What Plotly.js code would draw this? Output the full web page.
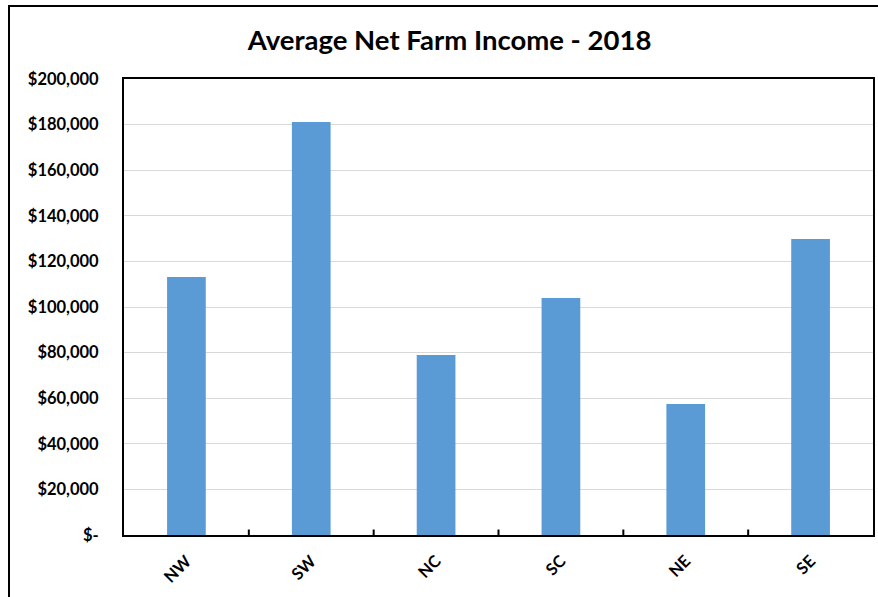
<!DOCTYPE html>
<html>
<head>
<meta charset="utf-8">
<script src="https://cdn.plot.ly/plotly-3.0.1.min.js"></script>
<style>
html,body{margin:0;padding:0;overflow:hidden;background:#fff;}
#wrap{position:relative;width:878px;height:597px;}
#chart{position:absolute;left:0;top:0;width:878px;height:597px;}
#frame{position:absolute;left:8px;top:5px;width:1000px;height:1000px;border:2px solid #000;pointer-events:none;box-sizing:border-box;}
</style>
</head>
<body>
<div id="wrap"><div id="chart"></div><div id="frame"></div></div>
<script>
const regions = ["NW", "SW", "NC", "SC", "NE", "SE"];
const income = [113200, 181100, 78900, 103900, 57500, 129800];
const yTickVals = [0, 20000, 40000, 60000, 80000, 100000, 120000, 140000, 160000, 180000, 200000];
const yTickText = ["$-", "$20,000", "$40,000", "$60,000", "$80,000", "$100,000", "$120,000", "$140,000", "$160,000", "$180,000", "$200,000"];
const titleText = "Average Net Farm Income - 2018";

const FONT = "Lato, 'Open Sans', sans-serif";
const trace = {
  type: "bar",
  x: regions,
  y: income,
  marker: {color: "#5b9bd5"},
  hoverinfo: "x+y"
};
const layout = {
  width: 878, height: 597,
  margin: {l: 124, r: 5, t: 79, b: 62, pad: 0},
  paper_bgcolor: "#fff", plot_bgcolor: "#fff",
  bargap: 0.69,
  showlegend: false,
  title: {text: "<b>" + titleText + "</b>", font: {family: FONT, size: 27.5, color: "#000"}, x: 0.512, xanchor: "center", y: 0.933, yanchor: "middle"},
  xaxis: {
    type: "category",
    tickangle: -45,
    tickfont: {family: FONT, size: 16.5, color: "#000", weight: "bold"},
    showline: true, linecolor: "#000", linewidth: 2, mirror: true,
    ticks: "", showgrid: false, zeroline: false, ticklabelstandoff: 8,
    fixedrange: true
  },
  yaxis: {
    range: [0, 200000],
    tickvals: yTickVals, ticktext: yTickText,
    tickfont: {family: FONT, size: 16.5, color: "#000", weight: "bold"},
    showline: true, linecolor: "#000", linewidth: 2, mirror: true,
    showgrid: true, gridcolor: "#d9d9d9", gridwidth: 1,
    zeroline: false, ticks: "", ticklabelstandoff: 20,
    fixedrange: true
  },
  shapes: regions.slice(1).map((r, i) => ({
    type: "line", xref: "x", yref: "paper",
    x0: i + 0.5, x1: i + 0.5, y0: 0, y1: 0.012,
    line: {color: "#000", width: 2}
  }))
};
Plotly.newPlot("chart", [trace], layout, {displayModeBar: false, staticPlot: true});
</script>
</body>
</html>
